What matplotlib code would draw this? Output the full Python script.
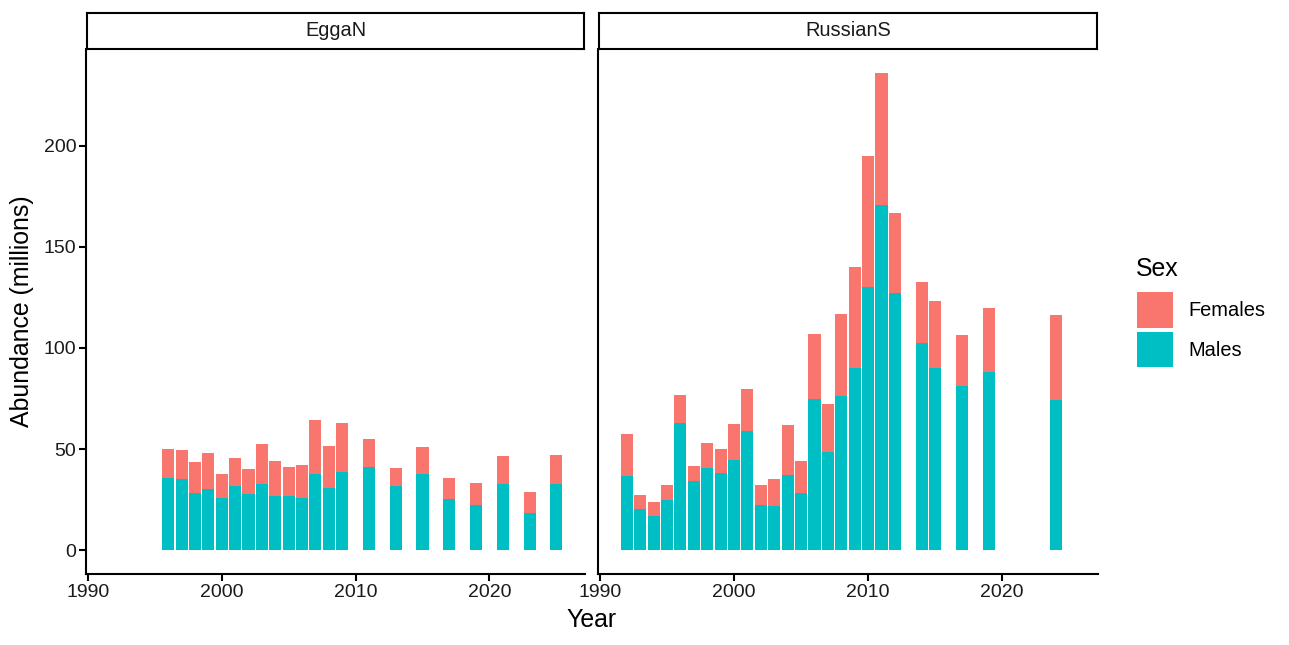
import matplotlib
matplotlib.use("Agg")
import matplotlib.pyplot as plt
from matplotlib.patches import Rectangle
import numpy as np

plt.rcParams['font.family'] = ['Liberation Sans', 'DejaVu Sans']

# ---- data ----
panels = ["EggaN", "RussianS"]

egga_years = [1996, 1997, 1998, 1999, 2000, 2001, 2002, 2003, 2004, 2005, 2006,
              2007, 2008, 2009, 2011, 2013, 2015, 2017, 2019, 2021, 2023, 2025]
egga_males = [35.6, 35.3, 28.4, 30.4, 25.7, 31.8, 27.7, 32.7, 26.7, 26.6, 25.7,
              37.6, 30.7, 38.6, 41.2, 31.7, 37.6, 25.4, 22.4, 32.5, 18.5, 32.7]
egga_females = [14.4, 14.4, 15.2, 17.6, 11.9, 13.7, 12.4, 19.8, 17.5, 14.5, 16.4,
                26.8, 20.8, 24.3, 13.9, 8.9, 13.4, 10.2, 10.6, 14.0, 10.2, 14.3]

russ_years = [1992, 1993, 1994, 1995, 1996, 1997, 1998, 1999, 2000, 2001, 2002,
              2003, 2004, 2005, 2006, 2007, 2008, 2009, 2010, 2011, 2012,
              2014, 2015, 2017, 2019, 2024]
russ_males = [36.6, 20.3, 16.8, 24.8, 62.9, 34.3, 40.8, 38.4, 44.6, 59.1, 22.4,
              21.8, 37.3, 28.4, 74.9, 48.5, 76.1, 90.2, 130.2, 170.8, 127.2,
              102.3, 90.1, 81.2, 88.1, 74.3]
russ_females = [20.8, 6.9, 7.0, 7.5, 13.8, 7.3, 12.2, 11.6, 17.8, 20.4, 9.9,
                13.5, 24.7, 15.7, 31.9, 23.9, 40.9, 49.9, 64.8, 65.3, 39.8,
                30.4, 33.2, 25.1, 31.7, 42.0]

sex_labels = ["Females", "Males"]
col_f = "#F8766D"
col_m = "#00BFC4"

data = {
    "EggaN": (egga_years, egga_males, egga_females),
    "RussianS": (russ_years, russ_males, russ_females),
}

# ---- figure ----
W, H = 1289, 645
fig = plt.figure(figsize=(W / 100, H / 100), dpi=100)

def fx(px):
    return px / W

def fy(py):
    return 1 - py / H

panel_x = [(86, 585), (598, 1098)]
top_py, bot_py = 49, 574
strip_top = 13

all_years = egga_years + russ_years
xmin = min(all_years) - 0.45
xmax = max(all_years) + 0.45
xr = xmax - xmin
xlim = (xmin - 0.05 * xr, xmax + 0.05 * xr)
ymax = max(np.array(russ_males) + np.array(russ_females))
ylim = (-0.05 * ymax, ymax * 1.05)

fs_tick = 14.0
fs_strip = 14.4
fs_title = 17.9
fs_leg = 14.4
lw = 1.5
txtcol = "#1A1A1A"

for i, name in enumerate(panels):
    x0, x1 = panel_x[i]
    ax = fig.add_axes([fx(x0), fy(bot_py), fx(x1 - x0), (bot_py - top_py) / H])
    yrs, m, f = data[name]
    ax.bar(yrs, m, width=0.9, color=col_m, linewidth=0)
    ax.bar(yrs, f, bottom=m, width=0.9, color=col_f, linewidth=0)
    ax.set_xlim(*xlim)
    ax.set_ylim(*ylim)
    ax.set_xticks([1990, 2000, 2010, 2020])
    for s in ["top", "right"]:
        ax.spines[s].set_visible(False)
    ax.spines["bottom"].set_linewidth(lw)
    ax.spines["left"].set_linewidth(lw)
    ax.tick_params(axis="both", length=4.8, width=lw, labelsize=fs_tick,
                   colors="black", labelcolor=txtcol, pad=2.2)
    if i == 0:
        ax.set_yticks([0, 50, 100, 150, 200])
    else:
        ax.set_yticks([])

    # strip
    sax = fig.add_axes([fx(x0 + 1), fy(top_py), fx(x1 - x0 - 2), (top_py - strip_top) / H])
    sax.set_xticks([])
    sax.set_yticks([])
    for s in sax.spines.values():
        s.set_linewidth(lw)
    sax.text(0.5, 0.5, name, ha="center", va="center", fontsize=fs_strip,
             color=txtcol, transform=sax.transAxes)

fig.text(fx(592), fy(620), "Year", ha="center", va="center", fontsize=fs_title)
fig.text(fx(22), fy(311), "Abundance (millions)", ha="center", va="center",
         rotation=90, fontsize=fs_title)

# legend (drawn in figure pixel positions)
fig.text(fx(1136), fy(269), "Sex", ha="left", va="center", fontsize=fs_title)
key_tops = [292, 331.5]
for lab, col, kt in zip(sex_labels, [col_f, col_m], key_tops):
    fig.add_artist(Rectangle((fx(1137), fy(kt + 35.5)), fx(36), 35.5 / H,
                             transform=fig.transFigure, facecolor=col,
                             edgecolor="none"))
    fig.text(fx(1188), fy(kt + 18.5), lab, ha="left", va="center",
             fontsize=fs_leg, color="black")

fig.savefig("out.png", dpi=100)
